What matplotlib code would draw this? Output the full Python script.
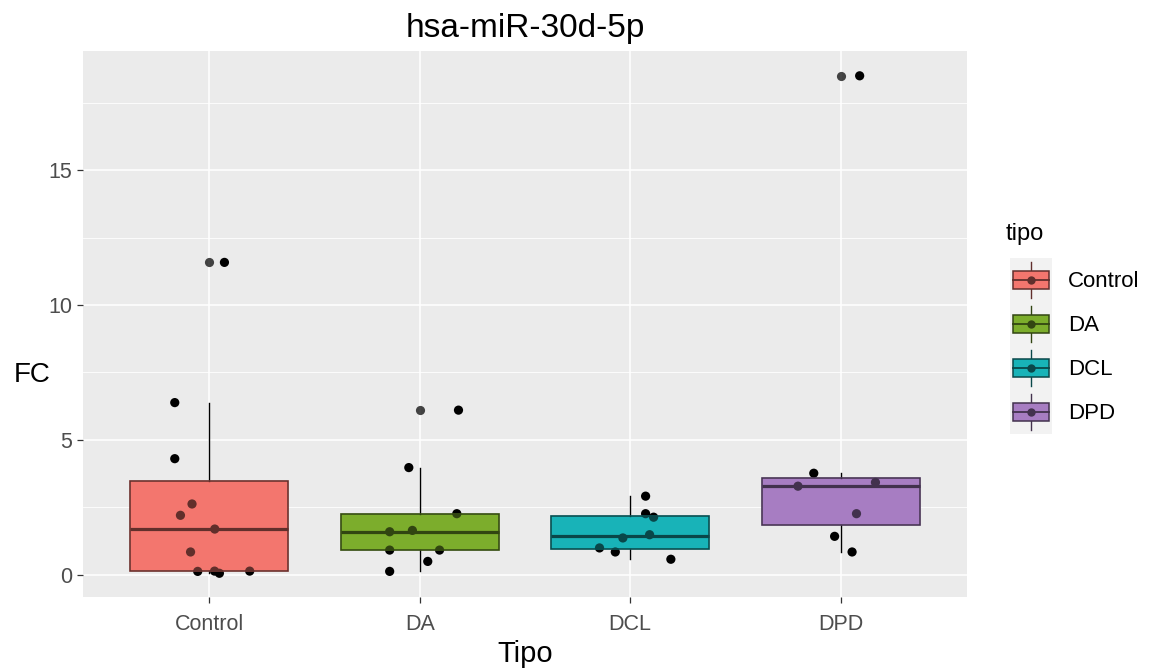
import numpy as np
import matplotlib
matplotlib.use("Agg")
import matplotlib.pyplot as plt
from matplotlib.patches import Rectangle
from matplotlib.lines import Line2D
from matplotlib.legend_handler import HandlerBase
from matplotlib.ticker import MultipleLocator
from matplotlib.colors import to_rgb

plt.rcParams['font.family'] = ['Liberation Sans', 'DejaVu Sans']

# ---------------- data ----------------
categories = ['Control', 'DA', 'DCL', 'DPD']
control_fc = [11.58, 6.38, 4.30, 2.62, 2.20, 1.69, 0.84, 0.12, 0.13, 0.05, 0.13]
control_jit = [0.072, -0.164, -0.164, -0.082, -0.137, 0.026, -0.089, -0.055, 0.025, 0.048, 0.192]
da_fc = [6.10, 3.97, 2.26, 1.64, 1.59, 0.91, 0.91, 0.49, 0.12]
da_jit = [0.184, -0.052, 0.176, -0.035, -0.143, -0.143, 0.094, 0.038, -0.143]
dcl_fc = [2.91, 2.26, 2.13, 1.48, 1.36, 0.99, 0.84, 0.57]
dcl_jit = [0.073, 0.073, 0.111, 0.092, -0.035, -0.146, -0.071, 0.193]
dpd_fc = [18.50, 3.76, 3.42, 3.28, 2.26, 1.42, 0.84]
dpd_jit = [0.090, -0.128, 0.165, -0.203, 0.075, -0.029, 0.054]
fills = ['#F3766E', '#7CAD2C', '#18B3B8', '#A77DC2']

groups = [control_fc, da_fc, dcl_fc, dpd_fc]
jitters = [control_jit, da_jit, dcl_jit, dpd_jit]

OVER_ALPHA = 0.4


def dark(c, a=OVER_ALPHA):
    r, g, b = to_rgb(c)
    return (r * a, g * a, b * a)


# ---------------- figure ----------------
fig = plt.figure(figsize=(11.52, 6.70), dpi=100)
fig.patch.set_facecolor('white')
ax = fig.add_axes([83 / 1152, 1 - 597 / 670, 884 / 1152, 546 / 670])
ax.set_facecolor('#EBEBEB')
for s in ax.spines.values():
    s.set_visible(False)

positions = np.arange(1, len(categories) + 1)

# boxplot layer (opaque fill, black lines)
bp = ax.boxplot(groups, positions=positions, widths=0.75, patch_artist=True,
                showcaps=False, whis=1.5, zorder=2,
                boxprops=dict(edgecolor='black', linewidth=1.1),
                whiskerprops=dict(color='black', linewidth=1.0),
                medianprops=dict(color='black', linewidth=2.3),
                flierprops=dict(marker='o', markerfacecolor='black', markeredgecolor='none',
                                markersize=6.6, alpha=0.72))
for patch, c in zip(bp['boxes'], fills):
    patch.set_facecolor(c)

# jittered points
for pos, vals, jit in zip(positions, groups, jitters):
    ax.scatter(pos + np.array(jit), vals, s=44, color='black', edgecolors='none', zorder=3)

# translucent box overlay (tints lines and points inside the box)
q1 = np.array([np.percentile(g, 25) for g in groups])
q3 = np.array([np.percentile(g, 75) for g in groups])
px_x = 1 / 210.5
px_y = 1 / 26.95
ax.bar(positions, (q3 - q1) + 2.2 * px_y, bottom=q1 - 1.1 * px_y, width=0.75 + 2.2 * px_x,
       color=fills, alpha=OVER_ALPHA, linewidth=0, zorder=4)

ax.set_xlim(0.4, 4.6)
ax.set_ylim(-0.83, 19.42)
ax.yaxis.set_major_locator(MultipleLocator(5))
ax.yaxis.set_minor_locator(MultipleLocator(2.5))
ax.set_xticks(positions)
ax.set_xticklabels(categories)
ax.grid(which='major', axis='both', color='white', linewidth=1.15)
ax.grid(which='minor', axis='y', color='white', linewidth=0.6)
ax.set_axisbelow(True)
ax.tick_params(axis='both', which='major', length=4.5, width=0.9, color='#333333',
               labelcolor='#4D4D4D', labelsize=15.5)
ax.tick_params(axis='y', pad=3.5)
ax.tick_params(axis='x', pad=7.5)
ax.tick_params(which='minor', length=0)

# titles / labels
ax.set_title('hsa-miR-30d-5p', fontsize=24, color='black', pad=10)
ax.set_xlabel('Tipo', fontsize=21, color='black', va='center')
ax.xaxis.set_label_coords(0.5, -(654 - 597) / 546)
ax.set_ylabel('FC', fontsize=20, color='black', rotation=0, ha='center', va='center')
ax.yaxis.set_label_coords(-(83 - 32) / 884, (597 - 375) / 546)


# ---------------- legend ----------------
class BoxKey:
    def __init__(self, fill):
        self.fill = fill


class BoxKeyHandler(HandlerBase):
    def create_artists(self, legend, orig_handle, xdescent, ydescent, width, height,
                       fontsize, trans):
        x0, y0 = -xdescent, -ydescent
        fill = orig_handle.fill
        dk = dark(fill)
        cx = x0 + width / 2
        cy = y0 + height / 2
        arts = []
        bg = Rectangle((x0, y0), width, height, facecolor='#F2F2F2', edgecolor='none',
                       transform=trans)
        arts.append(bg)
        arts.append(Line2D([cx, cx], [y0 + 0.1 * height, y0 + 0.3 * height], color=dk,
                           linewidth=1.0, transform=trans))
        arts.append(Line2D([cx, cx], [y0 + 0.7 * height, y0 + 0.9 * height], color=dk,
                           linewidth=1.0, transform=trans))
        box = Rectangle((x0 + 0.07 * width, y0 + 0.3 * height), 0.86 * width, 0.4 * height,
                        facecolor=fill, edgecolor=dk, linewidth=1.1, transform=trans)
        arts.append(box)
        arts.append(Line2D([x0 + 0.07 * width, x0 + 0.93 * width], [cy, cy], color=dk,
                           linewidth=1.3, transform=trans))
        arts.append(Line2D([cx], [cy], marker='o', markersize=6, color=dk,
                           markeredgecolor='none', linestyle='none', transform=trans))
        return arts


handles = [BoxKey(c) for c in fills]
leg = fig.legend(handles, categories, handler_map={BoxKey: BoxKeyHandler()},
                 loc='upper left', bbox_to_anchor=(1010 / 1152, 1 - 258 / 670),
                 bbox_transform=fig.transFigure, frameon=False, borderpad=0,
                 borderaxespad=0, labelspacing=0, handlelength=1.9, handleheight=2.67,
                 handletextpad=0.7, fontsize=16)
for t in leg.get_texts():
    t.set_color('black')
fig.text(1006 / 1152, 1 - 234 / 670, 'tipo', fontsize=17, ha='left', va='center', color='black')

fig.savefig('out.png', dpi=100)
